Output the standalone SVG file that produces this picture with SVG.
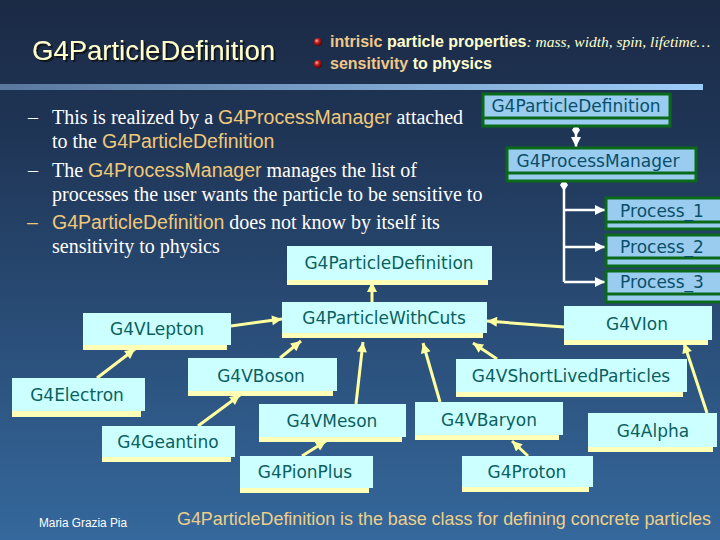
<svg xmlns="http://www.w3.org/2000/svg" width="720" height="540" viewBox="0 0 720 540">
<defs>
<linearGradient id="bg" x1="0" y1="0" x2="0" y2="1">
<stop offset="0" stop-color="#1b2a45"/>
<stop offset="0.25" stop-color="#1f3556"/>
<stop offset="1" stop-color="#35689c"/>
</linearGradient>
<linearGradient id="bar" x1="0" y1="0" x2="1" y2="0">
<stop offset="0" stop-color="#5a789e"/>
<stop offset="1" stop-color="#9cccfa"/>
</linearGradient>
<radialGradient id="ball" cx="0.35" cy="0.35" r="0.7">
<stop offset="0" stop-color="#ffb0a0"/>
<stop offset="0.4" stop-color="#c02020"/>
<stop offset="1" stop-color="#500000"/>
</radialGradient>
<filter id="ds" x="-5%" y="-20%" width="110%" height="140%">
<feDropShadow dx="2" dy="2" stdDeviation="0.6" flood-color="#111111" flood-opacity="0.8"/>
</filter>
<marker id="ya" viewBox="0 0 10 10" refX="10" refY="5" markerWidth="11" markerHeight="10" markerUnits="userSpaceOnUse" orient="auto">
<path d="M0,0 L10,5 L0,10 z" fill="#ffffa0"/>
</marker>
<marker id="wa" viewBox="0 0 10 10" refX="10" refY="5" markerWidth="12" markerHeight="10" markerUnits="userSpaceOnUse" orient="auto">
<path d="M0,0 L10,5 L0,10 z" fill="#ffffff"/>
</marker>
<marker id="wd" viewBox="0 0 12 8" refX="0" refY="4" markerWidth="12" markerHeight="8" markerUnits="userSpaceOnUse" orient="auto">
<path d="M0,4 L6,0 L12,4 L6,8 z" fill="#ffffff"/>
</marker>
</defs>
<style>
.body{font-family:"Liberation Serif","Times New Roman",serif;font-size:20px;fill:#ffffff}
.kw{font-family:"Liberation Sans",Arial,sans-serif;font-size:19.5px;fill:#f0c87a}
.hd{font-family:"Liberation Sans",Arial,sans-serif;font-size:16px;font-weight:bold;fill:#ffffcc}
.hk{fill:#f0c88a}
.it{font-family:"Liberation Serif","Times New Roman",serif;font-style:italic;font-weight:normal;font-size:15.5px;fill:#ffffcc}
.uml{fill:#99ccee;stroke:#0b6a1a;stroke-width:3}
.uline{stroke:#0b6a1a;stroke-width:3}
.ut{font-family:"DejaVu Sans","Liberation Sans",sans-serif;font-size:17px;fill:#0a4f6a;text-anchor:middle}
.bx{fill:#ccffff}
.sh{fill:#ffffb8}
.bt{font-family:"DejaVu Sans","Liberation Sans",sans-serif;font-size:17px;fill:#0a5f60;text-anchor:middle}
.yc{stroke:#ffffa0;stroke-width:3;fill:none;marker-end:url(#ya)}
.wc{stroke:#ffffff;stroke-width:2.5;fill:none}
</style>
<rect x="0" y="0" width="720" height="540" fill="url(#bg)"/>
<rect x="0" y="84" width="703" height="6" fill="url(#bar)"/>

<g id="title">
<text x="32" y="60" font-family="Liberation Sans,Arial,sans-serif" font-size="27.5" fill="#ffffcc" filter="url(#ds)">G4ParticleDefinition</text>
</g>

<g id="header-bullets">
<circle cx="318" cy="42" r="4" fill="url(#ball)"/>
<circle cx="318" cy="64" r="4" fill="url(#ball)"/>
<text class="hd" x="330" y="47"><tspan class="hk">intrisic</tspan> particle properties<tspan class="it">: mass, width, spin, lifetime…</tspan></text>
<text class="hd" x="330" y="69"><tspan class="hk">sensitivity</tspan>  to physics</text>
</g>

<g id="body-text">
<text class="body" x="28" y="124">–</text>
<text class="body" x="52" y="124">This is realized by a <tspan class="kw">G4ProcessManager</tspan> attached</text>
<text class="body" x="52" y="148">to the <tspan class="kw">G4ParticleDefinition</tspan></text>
<text class="body" x="28" y="177">–</text>
<text class="body" x="52" y="177">The <tspan class="kw">G4ProcessManager</tspan> manages the list of</text>
<text class="body" x="52" y="201">processes the user wants the particle to be sensitive to</text>
<text class="kw" x="27" y="229">–</text>
<text class="body" x="52" y="229"><tspan class="kw">G4ParticleDefinition</tspan> does not know by itself its</text>
<text class="body" x="52" y="253">sensitivity to physics</text>
</g>

<g id="uml-connectors">
<line class="wc" x1="576" y1="124" x2="576" y2="147" marker-start="url(#wd)" marker-end="url(#wa)"/>
<line class="wc" x1="564" y1="179" x2="564" y2="282" marker-start="url(#wd)"/>
<line class="wc" x1="564" y1="210" x2="605" y2="210" marker-end="url(#wa)"/>
<line class="wc" x1="564" y1="247" x2="605" y2="247" marker-end="url(#wa)"/>
<line class="wc" x1="564" y1="282" x2="605" y2="282" marker-end="url(#wa)"/>
</g>

<g id="uml-pd">
<rect class="uml" x="483" y="94" width="187" height="32"/>
<line class="uline" x1="483" y1="118" x2="670" y2="118"/>
<text class="ut" x="576" y="112">G4ParticleDefinition</text>
</g>
<g id="uml-pm">
<rect class="uml" x="507" y="148" width="189" height="33"/>
<line class="uline" x1="507" y1="173" x2="696" y2="173"/>
<text class="ut" x="598" y="167">G4ProcessManager</text>
</g>
<g id="uml-p1">
<rect class="uml" x="606" y="198" width="118" height="31"/>
<line class="uline" x1="606" y1="222" x2="724" y2="222"/>
<text class="ut" x="662" y="217">Process_1</text>
</g>
<g id="uml-p2">
<rect class="uml" x="606" y="235" width="118" height="31"/>
<line class="uline" x1="606" y1="258" x2="724" y2="258"/>
<text class="ut" x="662" y="253">Process_2</text>
</g>
<g id="uml-p3">
<rect class="uml" x="606" y="271" width="118" height="31"/>
<line class="uline" x1="606" y1="294" x2="724" y2="294"/>
<text class="ut" x="662" y="288">Process_3</text>
</g>

<g id="connectors">
<line class="yc" x1="372" y1="302" x2="372" y2="282"/>
<line class="yc" x1="231" y1="326" x2="282" y2="319"/>
<line class="yc" x1="97" y1="378" x2="135" y2="349"/>
<line class="yc" x1="280" y1="358" x2="301" y2="341"/>
<line class="yc" x1="198" y1="426" x2="240" y2="395"/>
<line class="yc" x1="356" y1="404" x2="363" y2="342"/>
<line class="yc" x1="302" y1="456" x2="326" y2="441"/>
<line class="yc" x1="564" y1="327" x2="487" y2="321"/>
<line class="yc" x1="497" y1="359" x2="473" y2="343"/>
<line class="yc" x1="440" y1="402" x2="423" y2="343"/>
<line class="yc" x1="707" y1="413" x2="684" y2="343"/>
<line class="yc" x1="528" y1="456" x2="512" y2="441"/>
</g>

<g id="n-pd">
<rect class="sh" x="287" y="251" width="201" height="34"/>
<rect class="bx" x="287" y="246" width="205" height="34"/>
<text class="bt" x="389" y="269">G4ParticleDefinition</text>
</g>
<g id="n-pwc">
<rect class="sh" x="282" y="307" width="201" height="31"/>
<rect class="bx" x="282" y="302" width="205" height="31"/>
<text class="bt" x="384" y="324">G4ParticleWithCuts</text>
</g>
<g id="n-lepton">
<rect class="sh" x="83" y="318" width="144" height="32"/>
<rect class="bx" x="83" y="313" width="148" height="32"/>
<text class="bt" x="157" y="335">G4VLepton</text>
</g>
<g id="n-electron">
<rect class="sh" x="12" y="384" width="129" height="33"/>
<rect class="bx" x="12" y="378" width="133" height="33"/>
<text class="bt" x="77" y="401">G4Electron</text>
</g>
<g id="n-boson">
<rect class="sh" x="188" y="363" width="145" height="33"/>
<rect class="bx" x="188" y="358" width="149" height="33"/>
<text class="bt" x="261" y="382">G4VBoson</text>
</g>
<g id="n-geantino">
<rect class="sh" x="102" y="431" width="129" height="31"/>
<rect class="bx" x="102" y="426" width="133" height="31"/>
<text class="bt" x="168" y="448">G4Geantino</text>
</g>
<g id="n-meson">
<rect class="sh" x="259" y="409" width="143" height="33"/>
<rect class="bx" x="259" y="404" width="147" height="33"/>
<text class="bt" x="332" y="427">G4VMeson</text>
</g>
<g id="n-pionplus">
<rect class="sh" x="240" y="461" width="129" height="32"/>
<rect class="bx" x="240" y="456" width="133" height="32"/>
<text class="bt" x="305" y="478">G4PionPlus</text>
</g>
<g id="n-ion">
<rect class="sh" x="564" y="311" width="144" height="34"/>
<rect class="bx" x="564" y="306" width="148" height="34"/>
<text class="bt" x="637" y="330">G4VIon</text>
</g>
<g id="n-shortlived">
<rect class="sh" x="456" y="364" width="227" height="33"/>
<rect class="bx" x="456" y="359" width="231" height="33"/>
<text class="bt" x="571" y="382">G4VShortLivedParticles</text>
</g>
<g id="n-baryon">
<rect class="sh" x="415" y="407" width="144" height="33"/>
<rect class="bx" x="415" y="402" width="148" height="33"/>
<text class="bt" x="489" y="426">G4VBaryon</text>
</g>
<g id="n-alpha">
<rect class="sh" x="588" y="418" width="125" height="34"/>
<rect class="bx" x="588" y="413" width="129" height="34"/>
<text class="bt" x="653" y="437">G4Alpha</text>
</g>
<g id="n-proton">
<rect class="sh" x="462" y="461" width="127" height="31"/>
<rect class="bx" x="462" y="456" width="131" height="31"/>
<text class="bt" x="527" y="478">G4Proton</text>
</g>

<g id="footer">
<text x="39" y="527" font-family="Liberation Sans,Arial,sans-serif" font-size="12" fill="#ffffff" textLength="88" lengthAdjust="spacingAndGlyphs">Maria Grazia Pia</text>
<text x="177" y="525" font-family="Liberation Sans,Arial,sans-serif" font-size="17.9" fill="#ecd08a">G4ParticleDefinition is the base class for defining concrete particles</text>
</g>
</svg>
